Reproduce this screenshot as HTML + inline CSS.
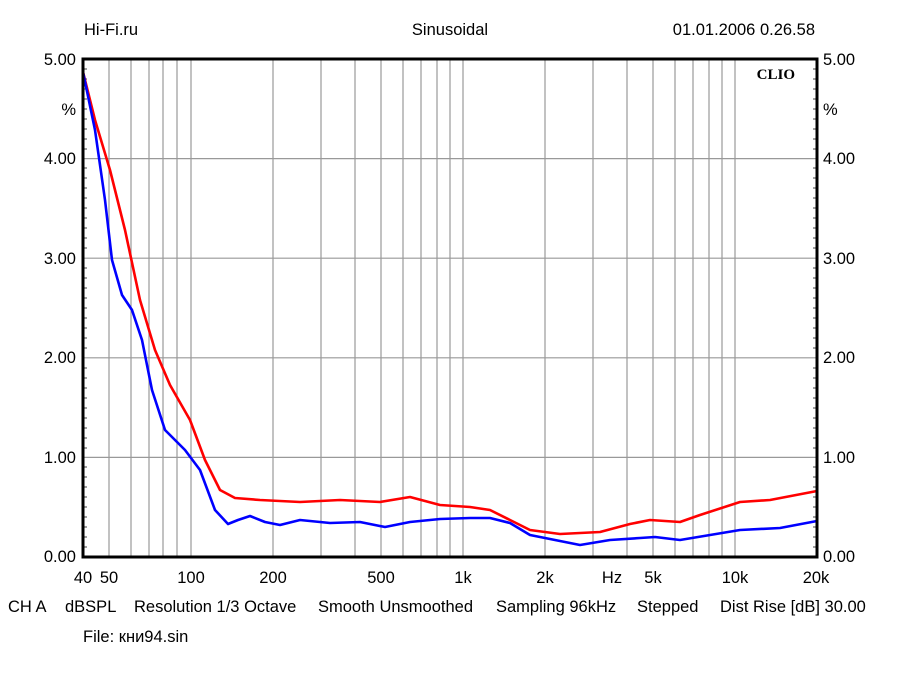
<!DOCTYPE html>
<html><head><meta charset="utf-8"><style>
body{margin:0;background:#fff}
svg{display:block;font-family:"Liberation Sans",sans-serif}
</style></head><body>
<svg width="900" height="675" viewBox="0 0 900 675">
<g stroke="#999" stroke-width="1.2">
<line x1="109" y1="59" x2="109" y2="557"/><line x1="131" y1="59" x2="131" y2="557"/><line x1="149" y1="59" x2="149" y2="557"/><line x1="163" y1="59" x2="163" y2="557"/><line x1="177" y1="59" x2="177" y2="557"/><line x1="191" y1="59" x2="191" y2="557"/>
<line x1="273" y1="59" x2="273" y2="557"/><line x1="321" y1="59" x2="321" y2="557"/><line x1="355" y1="59" x2="355" y2="557"/><line x1="381" y1="59" x2="381" y2="557"/><line x1="403" y1="59" x2="403" y2="557"/><line x1="421" y1="59" x2="421" y2="557"/><line x1="437" y1="59" x2="437" y2="557"/><line x1="450" y1="59" x2="450" y2="557"/><line x1="463" y1="59" x2="463" y2="557"/>
<line x1="545" y1="59" x2="545" y2="557"/><line x1="593" y1="59" x2="593" y2="557"/><line x1="627" y1="59" x2="627" y2="557"/><line x1="653" y1="59" x2="653" y2="557"/><line x1="675" y1="59" x2="675" y2="557"/><line x1="693" y1="59" x2="693" y2="557"/><line x1="709" y1="59" x2="709" y2="557"/><line x1="722" y1="59" x2="722" y2="557"/><line x1="735" y1="59" x2="735" y2="557"/>
<line x1="83" y1="158.6" x2="817" y2="158.6"/><line x1="83" y1="258.2" x2="817" y2="258.2"/><line x1="83" y1="357.8" x2="817" y2="357.8"/><line x1="83" y1="457.4" x2="817" y2="457.4"/>
</g>
<g id="tk" stroke="#444" stroke-width="1">
<path d="M83 69h4M83 79h4M83 89h4M83 99h4M83 109h4M83 119h4M83 129h4M83 139h4M83 149h4M83 168h4M83 178h4M83 188h4M83 198h4M83 208h4M83 218h4M83 228h4M83 238h4M83 248h4M83 268h4M83 278h4M83 288h4M83 298h4M83 308h4M83 318h4M83 328h4M83 338h4M83 348h4M83 368h4M83 378h4M83 388h4M83 398h4M83 408h4M83 418h4M83 428h4M83 438h4M83 448h4M83 467h4M83 477h4M83 487h4M83 497h4M83 507h4M83 517h4M83 527h4M83 537h4M83 547h4"/>
</g>
<use href="#tk" transform="translate(900,0) scale(-1,1)"/>
<polyline fill="none" stroke="#f00" stroke-width="2.6" stroke-linejoin="round" points="83,72 95,120 110,170 125,230 140,300 155,350 170,385 190,420 205,460 220,490 235,498 260,500 300,502 340,500 380,502 410,497 440,505 470,507 490,510 510,520 530,530 560,534 600,532 630,524 650,520 680,522 700,515 740,502 770,500 817,491"/>
<polyline fill="none" stroke="#00f" stroke-width="2.6" stroke-linejoin="round" points="83,72 95,130 105,200 112,260 122,295 132,310 142,340 152,390 165,430 185,450 200,470 215,510 228,524 238,520 250,516 265,522 280,525 300,520 330,523 360,522 385,527 410,522 440,519 470,518 490,518 510,523 530,535 555,540 580,545 610,540 640,538 655,537 680,540 710,535 740,530 780,528 817,521"/>
<rect x="83" y="59" width="734" height="498" fill="none" stroke="#000" stroke-width="3"/>
<text x="795" y="79" font-family="Liberation Serif,serif" font-weight="bold" font-size="15" text-anchor="end">CLIO</text>
<g font-size="16.5" fill="#000">
<text x="84" y="35">Hi-Fi.ru</text><text x="450" y="35" text-anchor="middle">Sinusoidal</text><text x="815" y="35" text-anchor="end">01.01.2006 0.26.58</text>
<g text-anchor="end"><text x="76" y="65">5.00</text><text x="76" y="115">%</text><text x="76" y="164">4.00</text><text x="76" y="264">3.00</text><text x="76" y="363">2.00</text><text x="76" y="463">1.00</text><text x="76" y="562">0.00</text></g>
<g><text x="823" y="65">5.00</text><text x="823" y="115">%</text><text x="823" y="164">4.00</text><text x="823" y="264">3.00</text><text x="823" y="363">2.00</text><text x="823" y="463">1.00</text><text x="823" y="562">0.00</text></g>
<g text-anchor="middle"><text x="83" y="583">40</text><text x="109" y="583">50</text><text x="191" y="583">100</text><text x="273" y="583">200</text><text x="381" y="583">500</text><text x="463" y="583">1k</text><text x="545" y="583">2k</text><text x="612" y="583">Hz</text><text x="653" y="583">5k</text><text x="735" y="583">10k</text><text x="816" y="583">20k</text></g>
<text x="8" y="612">CH A</text><text x="65" y="612">dBSPL</text><text x="134" y="612">Resolution 1/3 Octave</text><text x="318" y="612">Smooth Unsmoothed</text><text x="496" y="612">Sampling 96kHz</text><text x="637" y="612">Stepped</text><text x="720" y="612">Dist Rise [dB] 30.00</text>
<text x="83" y="642">File: кни94.sin</text>
</g>
</svg>
</body></html>
